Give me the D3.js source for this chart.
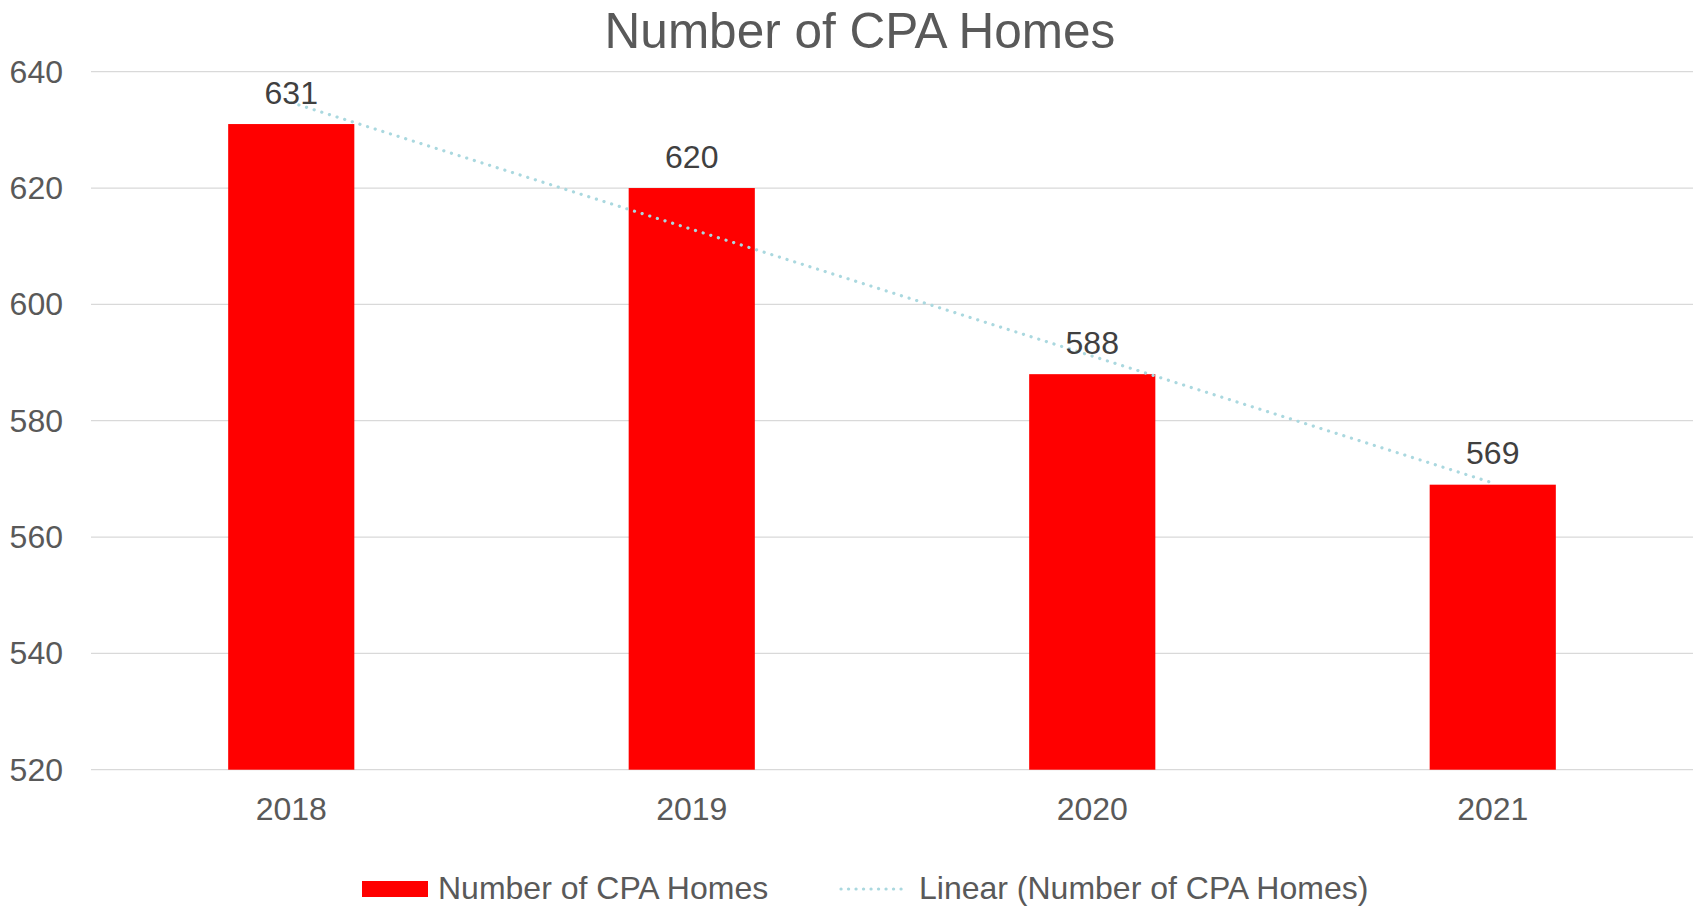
<!DOCTYPE html>
<html>
<head>
<meta charset="utf-8">
<script src="https://cdn.jsdelivr.net/npm/d3@7"></script>
<style>
  body { margin: 0; background: #fff; }
  svg { display: block; font-family: "Liberation Sans", Arial, sans-serif; }
</style>
</head>
<body>
<svg id="chart" width="1699" height="908"></svg>
<script>
// data
const years = ["2018", "2019", "2020", "2021"]
const homes = [631, 620, 588, 569]
const yTicks = [520, 540, 560, 580, 600, 620, 640]
const seriesName = "Number of CPA Homes"
const trendName = "Linear (Number of CPA Homes)"

const plotLeft = 91, plotRight = 1693, plotTop = 71.7, plotBottom = 769.7
const textColor = "#595959"
const trendColor = "#aad8df"

const svg = d3.select("#chart")

const x = d3.scaleBand().domain(years).range([plotLeft, plotRight])
    .paddingInner(0.685).paddingOuter(0.3425)
const y = d3.scaleLinear().domain([520, 640]).range([plotBottom, plotTop])

// gridlines
svg.append("g").selectAll("line").data(yTicks).join("line")
    .attr("x1", plotLeft).attr("x2", plotRight)
    .attr("y1", d => y(d)).attr("y2", d => y(d))
    .attr("stroke", "#d9d9d9").attr("stroke-width", 1.3)

// y labels
svg.append("g").selectAll("text").data(yTicks).join("text")
    .attr("x", 63).attr("y", d => y(d) + 10.8)
    .attr("text-anchor", "end")
    .attr("fill", textColor).style("font-size", "32px")
    .text(d => d)

// bars
svg.append("g").selectAll("rect").data(homes).join("rect")
    .attr("x", (d, i) => x(years[i]))
    .attr("width", x.bandwidth())
    .attr("y", d => y(d))
    .attr("height", d => y(520) - y(d))
    .attr("fill", "#ff0000")

// linear trendline (least squares, like Excel)
const idx = homes.map((d, i) => i + 1)
const mx = d3.mean(idx), my = d3.mean(homes)
const slope = d3.sum(idx, (v, i) => (v - mx) * (homes[i] - my)) / d3.sum(idx, v => (v - mx) ** 2)
const fit = i => my + slope * (i + 1 - mx)
const trend = [0, years.length - 1].map(i => [x(years[i]) + x.bandwidth() / 2, y(fit(i))])

svg.append("path")
    .attr("d", d3.line()(trend))
    .attr("fill", "none")
    .attr("stroke", trendColor).attr("stroke-width", 3.2)
    .attr("stroke-linecap", "round")
    .attr("stroke-dasharray", "0.1 7.9")

// data labels
svg.append("g").selectAll("text").data(homes).join("text")
    .attr("x", (d, i) => x(years[i]) + x.bandwidth() / 2)
    .attr("y", d => y(d) - 20.5)
    .attr("text-anchor", "middle")
    .attr("fill", "#404040").style("font-size", "32px")
    .text(d => d)

// category labels
svg.append("g").selectAll("text").data(years).join("text")
    .attr("x", d => x(d) + x.bandwidth() / 2)
    .attr("y", 819.5)
    .attr("text-anchor", "middle")
    .attr("fill", textColor).style("font-size", "32px")
    .text(d => d)

// title
svg.append("text")
    .attr("x", 860).attr("y", 48)
    .attr("text-anchor", "middle")
    .attr("fill", textColor).style("font-size", "49.5px")
    .text(seriesName)

// legend
const legend = svg.append("g").attr("class", "legend")
legend.append("rect")
    .attr("x", 362).attr("y", 881).attr("width", 66).attr("height", 16)
    .attr("fill", "#ff0000")
legend.append("text")
    .attr("x", 438).attr("y", 899.3)
    .attr("fill", textColor).style("font-size", "32px")
    .text(seriesName)
legend.append("line")
    .attr("x1", 841).attr("x2", 908).attr("y1", 889).attr("y2", 889)
    .attr("stroke", trendColor).attr("stroke-width", 3.2)
    .attr("stroke-linecap", "round")
    .attr("stroke-dasharray", "0.1 7.4")
legend.append("text")
    .attr("x", 919).attr("y", 899.3)
    .attr("fill", textColor).style("font-size", "32px")
    .text(trendName)
</script>
</body>
</html>
